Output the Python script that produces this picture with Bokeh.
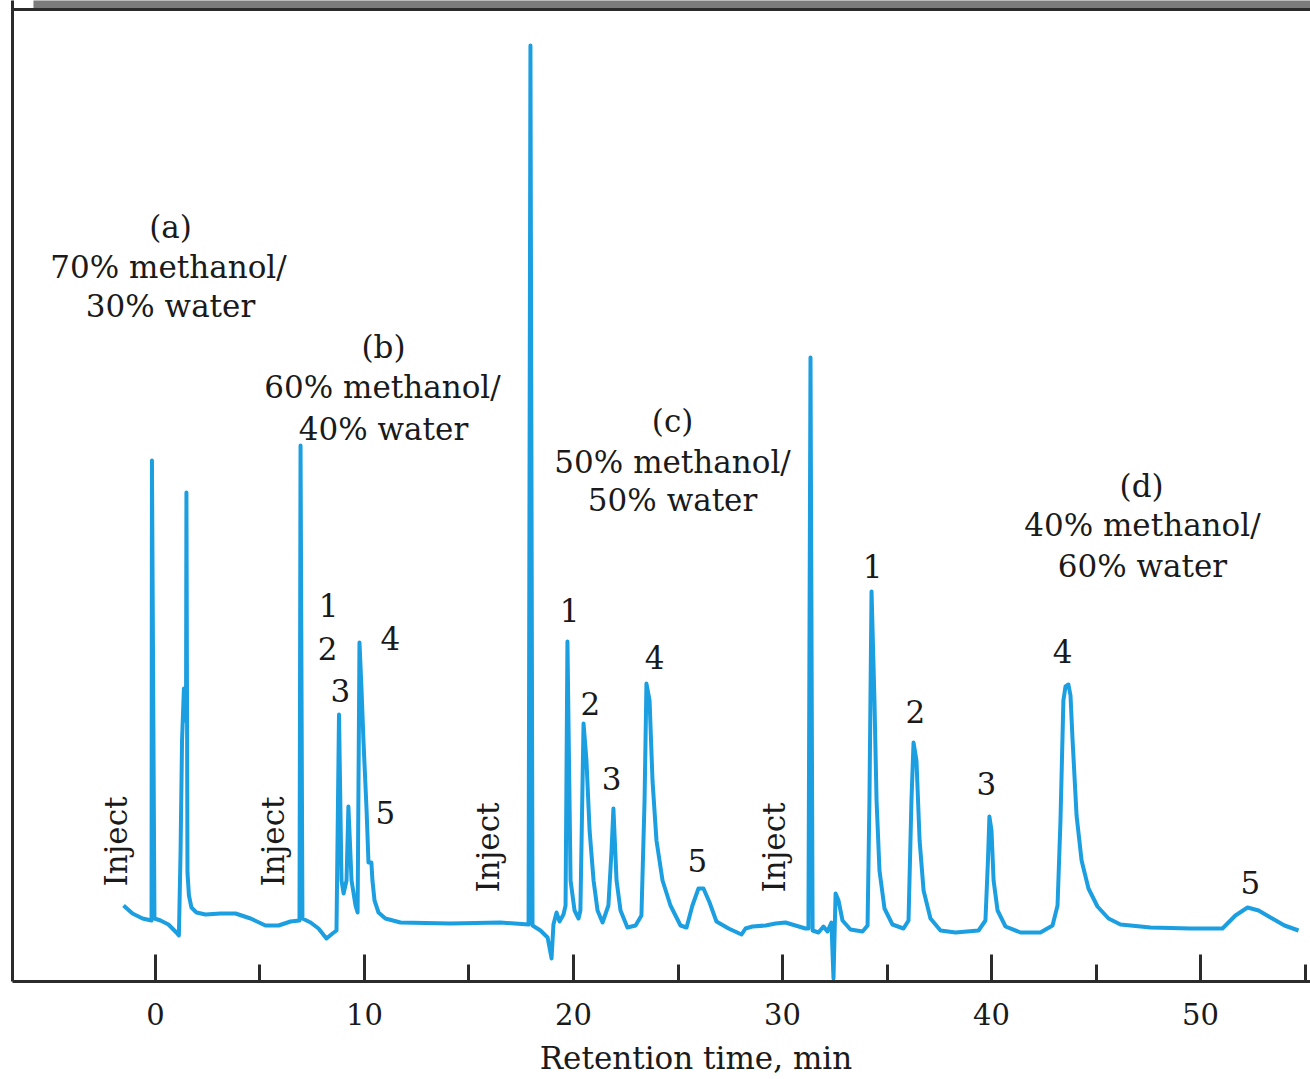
import numpy as np
from bokeh.plotting import figure
from bokeh.models import Range1d, FixedTicker, Span
from bokeh.embed import file_html
from bokeh.resources import INLINE
from bokeh.core.properties import value

# ---------------- data ----------------
# retention time (min) and detector signal (arbitrary units)
time_min = [
    -1.53, -1.10, -0.62, -0.19, -0.17, -0.05, 0.24, 0.62, 1.00, 1.12,
    1.20, 1.27, 1.36, 1.46, 1.48, 1.53, 1.60, 1.72, 1.96, 2.39,
    3.11, 3.83, 4.55, 5.26, 5.89, 6.46, 6.89, 6.94, 7.03, 7.42,
    7.80, 8.18, 8.47, 8.66, 8.78, 8.90, 9.00, 9.14, 9.23, 9.38,
    9.57, 9.67, 9.76, 9.86, 9.95, 10.10, 10.19, 10.33, 10.38, 10.48,
    10.67, 11.00, 11.72, 14.11, 16.51, 17.85, 17.94, 18.04, 18.42, 18.76,
    18.95, 19.04, 19.19, 19.33, 19.52, 19.62, 19.71, 19.86, 20.05, 20.24,
    20.33, 20.48, 20.62, 20.77, 20.96, 21.15, 21.39, 21.67, 21.82, 21.91,
    22.06, 22.25, 22.58, 22.97, 23.25, 23.40, 23.49, 23.64, 23.78, 23.97,
    24.26, 24.64, 25.12, 25.41, 25.69, 25.98, 26.22, 26.51, 26.84, 27.42,
    28.04, 28.23, 28.56, 29.19, 29.67, 30.14, 30.62, 31.10, 31.24, 31.34,
    31.44, 31.72, 31.96, 32.15, 32.34, 32.44, 32.54, 32.68, 32.87, 33.25,
    33.83, 34.07, 34.16, 34.26, 34.40, 34.50, 34.64, 34.88, 35.26, 35.79,
    36.03, 36.17, 36.27, 36.41, 36.56, 36.75, 37.08, 37.56, 38.28, 39.38,
    39.71, 39.83, 39.90, 40.00, 40.10, 40.29, 40.67, 41.39, 42.34, 42.92,
    43.16, 43.30, 43.44, 43.54, 43.68, 43.78, 43.88, 44.07, 44.31, 44.64,
    45.07, 45.60, 46.17, 47.61, 49.52, 51.05, 51.67, 52.25, 52.78, 53.35,
    54.02, 54.69,
]
signal = [
    78, 70, 65, 63, 523, 65, 63, 59, 51, 48,
    133, 243, 295, 263, 491, 111, 88, 76, 71, 69,
    70, 70, 65, 58, 58, 62, 63, 538, 65, 61,
    55, 45, 50, 53, 269, 103, 90, 103, 177, 103,
    78, 71, 341, 293, 243, 173, 121, 121, 103, 83,
    71, 65, 61, 60, 61, 59, 938, 58, 53, 46,
    25, 59, 71, 62, 69, 78, 342, 103, 73, 65,
    73, 260, 223, 153, 103, 73, 61, 78, 133, 175,
    103, 73, 56, 58, 68, 183, 300, 283, 203, 143,
    103, 78, 58, 56, 78, 95, 95, 81, 62, 55,
    49, 55, 57, 58, 60, 61, 58, 55, 55, 626,
    53, 51, 57, 52, 61, 5, 90, 83, 63, 54,
    52, 58, 183, 392, 283, 183, 113, 75, 59, 55,
    63, 183, 241, 223, 143, 93, 65, 53, 51, 53,
    63, 123, 167, 153, 103, 73, 57, 51, 51, 58,
    78, 163, 283, 297, 299, 288, 243, 168, 123, 95,
    77, 65, 59, 56, 55, 55, 68, 76, 73, 66,
    58, 53,
]

tick_values = [0, 10, 20, 30, 40, 50]
minor_tick_values = [5, 15, 25, 35, 45, 55]
tick_labels = {0: "0", 10: "10", 20: "20", 30: "30", 40: "40", 50: "50"}
x_label = "Retention time, min"

condition_text = [
    "(a)", "70% methanol/", "30% water",
    "(b)", "60% methanol/", "40% water",
    "(c)", "50% methanol/", "50% water",
    "(d)", "40% methanol/", "60% water",
]
inject_text = ["Inject", "Inject", "Inject", "Inject"]
peak_text = ["1", "2", "3", "4", "5",
             "1", "2", "3", "4", "5",
             "1", "2", "3", "4", "5"]

# ---------------- layout (label anchor positions) ----------------
cond_x = [0.72, 0.62, 0.72, 10.91, 10.86, 10.91, 24.74, 24.74, 24.74, 47.18, 47.22, 47.22]
cond_y = [757, 717, 678, 637, 597, 555, 563, 522, 484, 498, 459, 418]
inject_x = [-1.87, 5.60, 15.93, 29.57]
inject_y = [142, 142, 136, 136]
peak_x = [8.28, 8.23, 8.85, 11.24, 11.00,
          19.81, 20.81, 21.82, 23.88, 25.93,
          34.31, 36.36, 39.76, 43.40, 52.39]
peak_y = [378, 335, 293, 345, 171,
          373, 280, 205, 326, 123,
          417, 272, 200, 332, 101]
label_shift = "\u00a0" * 7  # moves the centred axis title right, as in the original

LINE = "#1c9fe0"
INK = "#1a1a1a"
FONT = value("DejaVu Serif")

p = figure(
    width=1310, height=1079,
    x_range=Range1d(-6.842, 55.263), y_range=Range1d(2, 983),
    output_backend="svg", toolbar_location=None,
    min_border_left=12, min_border_right=0, min_border_top=0, min_border_bottom=98,
)
p.outline_line_color = None
p.grid.visible = False
p.background_fill_color = "white"
p.border_fill_color = "white"

# top scanned frame band and border line
p.quad(left=-5.84, right=56, bottom=975, top=990, fill_color="#7c7c7c", line_color=None)
p.add_layout(Span(location=974, dimension="width", line_color="#2b2b2b", line_width=3))

# left border via y axis line only
p.yaxis.ticker = FixedTicker(ticks=[])
p.yaxis.major_tick_out = 0
p.yaxis.major_tick_in = 0
p.yaxis.minor_tick_out = 0
p.yaxis.minor_tick_in = 0
p.yaxis.major_label_standoff = 0
p.yaxis.axis_line_width = 3
p.yaxis.axis_line_color = "#2b2b2b"

xa = p.xaxis[0]
xa.ticker = FixedTicker(ticks=tick_values, minor_ticks=minor_tick_values)
xa.major_label_overrides = tick_labels
xa.major_tick_in = 27
xa.major_tick_out = 0
xa.minor_tick_in = 17
xa.minor_tick_out = 0
xa.major_tick_line_width = 3
xa.minor_tick_line_width = 3
xa.axis_line_width = 3
xa.axis_line_color = "#2b2b2b"
xa.major_tick_line_color = "#2b2b2b"
xa.minor_tick_line_color = "#2b2b2b"
xa.major_label_text_font = "DejaVu Serif"
xa.major_label_text_font_size = "29px"
xa.major_label_text_color = INK
xa.major_label_standoff = 21
xa.axis_label = label_shift + x_label
xa.axis_label_text_font = "DejaVu Serif"
xa.axis_label_text_font_size = "31px"
xa.axis_label_text_font_style = "normal"
xa.axis_label_text_color = INK
xa.axis_label_standoff = 12

p.line(time_min, signal, line_color=LINE, line_width=4, line_join="round")

p.text(x=cond_x, y=cond_y, text=condition_text, text_font=FONT, text_font_size="31px",
       text_align="center", text_baseline="middle", text_color=INK)
p.text(x=inject_x, y=inject_y, text=inject_text, text_font=FONT, text_font_size="31px",
       text_align="center", text_baseline="middle", text_color=INK, angle=np.pi / 2)
p.text(x=peak_x, y=peak_y, text=peak_text, text_font=FONT, text_font_size="31px",
       text_align="center", text_baseline="middle", text_color=INK)

open("out.html", "w").write(file_html(p, INLINE))
